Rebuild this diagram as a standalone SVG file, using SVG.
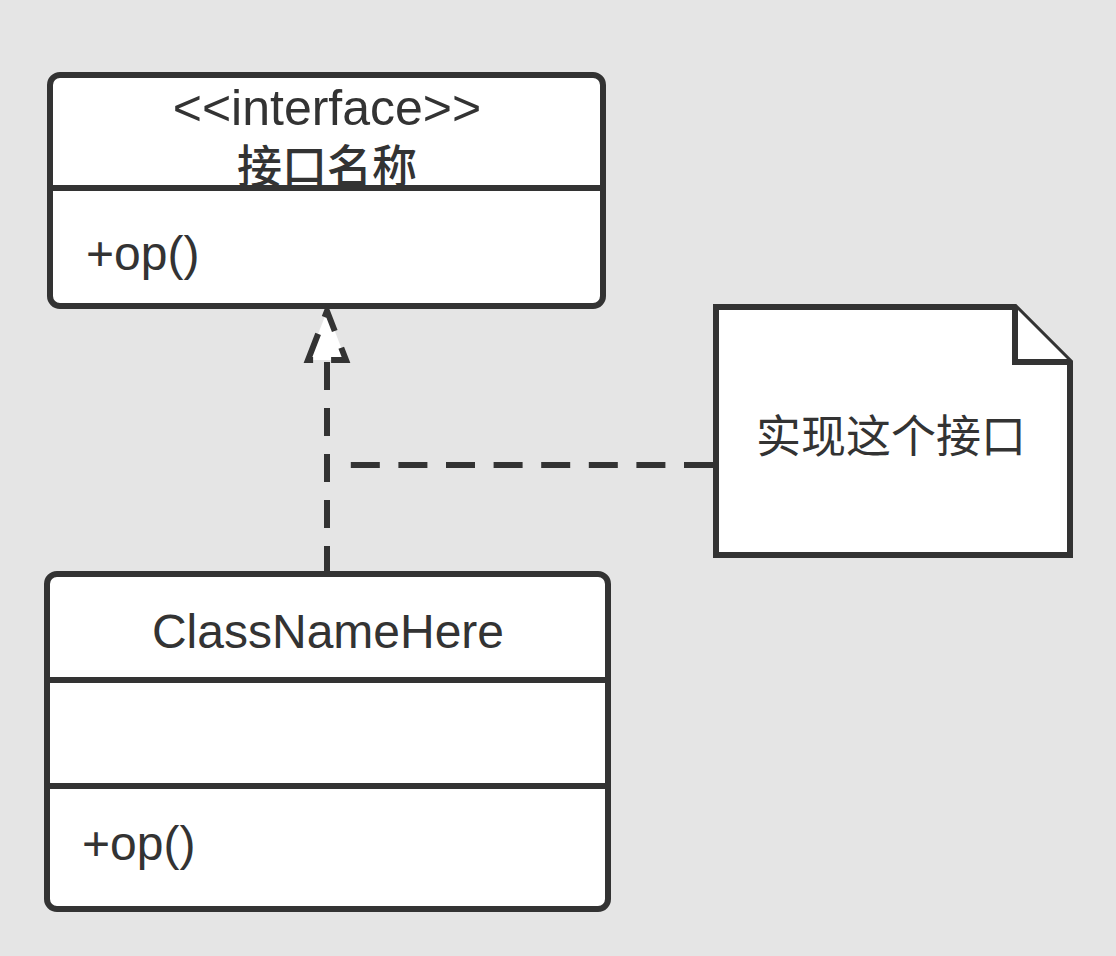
<svg xmlns="http://www.w3.org/2000/svg" width="1116" height="956" viewBox="0 0 1116 956">
<style>
.box{fill:#fff;stroke:#333;stroke-width:6}
.div{stroke:#333;stroke-width:6}
.t{font-family:"Liberation Sans","Noto Sans CJK SC",sans-serif;font-size:48px;fill:#333}
.c{font-family:"Noto Sans CJK SC",sans-serif;font-size:45px;fill:#333}
.dash{fill:none;stroke:#333;stroke-width:6;stroke-dasharray:28 18}
</style>
<rect width="1116" height="956" fill="#e5e5e5"/>
<g id="connectors">
<line class="dash" x1="327" y1="574" x2="327" y2="360"/>
<path class="dash" d="M308 360 L327 311 L346 360 Z" style="fill:#fff"/>
<line class="dash" x1="713" y1="465" x2="350" y2="465" style="stroke-dasharray:29 18.6"/>
</g>
<g id="interface">
<rect class="box" x="50" y="75" width="553" height="231" rx="10"/>
<line class="div" x1="50" y1="188" x2="603" y2="188"/>
<text class="t" x="327" y="125" text-anchor="middle" style="font-size:50px">&lt;&lt;interface&gt;&gt;</text>
<text class="c" x="327" y="183" text-anchor="middle" font-weight="500">接口名称</text>
<text class="t" x="86" y="270">+op()</text>
</g>
<g id="note">
<path class="box" d="M716 307 L1015 307 L1070 362 L1070 555 L716 555 Z"/>
<path class="box" d="M1015 307 L1015 362 L1070 362"/>
<text class="c" x="891" y="453" text-anchor="middle">实现这个接口</text>
</g>
<g id="class">
<rect class="box" x="47" y="574" width="561" height="335" rx="10"/>
<line class="div" x1="47" y1="680" x2="608" y2="680"/>
<line class="div" x1="47" y1="786" x2="608" y2="786"/>
<text class="t" x="328" y="648" text-anchor="middle">ClassNameHere</text>
<text class="t" x="82" y="860">+op()</text>
</g>
</svg>
